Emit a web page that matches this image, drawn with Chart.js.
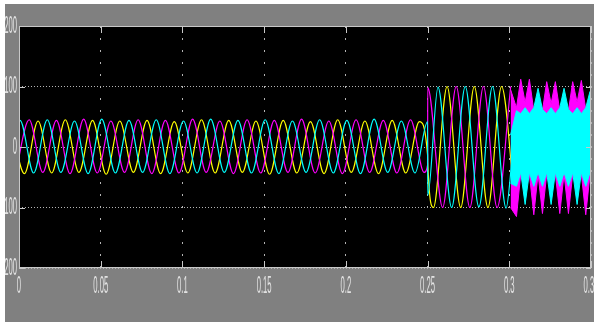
<!DOCTYPE html>
<html>
<head>
<meta charset="utf-8">
<script src="https://cdn.jsdelivr.net/npm/chart.js@4.4.1/dist/chart.umd.min.js"></script>
<style>
  html, body { margin: 0; padding: 0; background: #fff; }
  #panel { position: absolute; left: 5px; top: 4px; width: 589px; height: 318px; background: #808080; }
  canvas { display: block; }
</style>
</head>
<body>
<div id="panel"><canvas id="scope" width="589" height="318"></canvas></div>
<script>
// axis ticks
const xTicks = [0, 0.05, 0.1, 0.15, 0.2, 0.25, 0.3, 0.35];
const xTickLabels = ['0', '0.05', '0.1', '0.15', '0.2', '0.25', '0.3', '0.35'];
const yTicks = [200, 100, 0, -100, -200];
const yTickLabels = ['200', '100', '0', '-100', '-200'];

// 60 Hz phases: peaks/troughs are half a period apart
const halfPeriod = 1 / 120;
const stepTime = 0.25;

// cyan phase
const cyanStart1 = -0.0077;
const cyanSwing1 = [-42, 44, -43, 45, -42, 43, -44, 46, -43, 44, -42, 45, -44, 43, -43, 46,
                    -42, 44, -43, 45, -44, 43, -42, 45, -43, 44, -44, 46, -42, 43, -43];
const cyanStep = [42, -80];          // just before / just after 0.25 s
const cyanStart2 = 0.2564;
const cyanSwing2 = [99, -100, 100, -99, 100, -101];
const cyanTail = [0.3017, -20];

// magenta phase
const magentaStart1 = -0.0021;
const magentaSwing1 = [-43, 45, -42, 44, -44, 46, -43, 43, -42, 45, -44, 44, -43, 46, -42, 43,
                       -44, 45, -43, 44, -42, 46, -43, 43, -44, 45, -42, 44, -43, 45, -42];
const magentaStep = [-30, 98];
const magentaStart2 = 0.2592;
const magentaSwing2 = [-100, 100, -100, 100, -100, 100];

// yellow phase
const yellowStart1 = -0.0050;
const yellowSwing1 = [42, -44, 43, -43, 45, -42, 44, -45, 43, -42, 44, -44, 42, -43, 45, -43,
                      44, -42, 43, -45, 44, -43, 42, -44, 45, -42, 43, -44, 44, -43, 42];
const yellowStep = [-13, -26];
const yellowStart2 = 0.2536;
const yellowSwing2 = [-100, 100, -100, 100, -100, 100, -100];

// after 0.3 s: envelopes of the fast oscillation
const bandTimes = [0.3008, 0.3044, 0.3070, 0.3097, 0.3123, 0.3150, 0.3176, 0.3203, 0.3229, 0.3256,
                   0.3282, 0.3309, 0.3335, 0.3362, 0.3388, 0.3415, 0.3441, 0.3468, 0.3494];
const magentaTop = [95, 65, 112, 74, 112, 60, 60, 60, 108, 72, 108, 60, 60, 60, 108, 74, 110, 62, 70];
const magentaBottom = [-100, -115, -45, -60, -45, -112, -45, -110, -45, -60, -45, -110, -45, -110, -45, -60, -45, -112, -45];
const cyanTop = [20, 60, 55, 65, 55, 65, 97, 62, 55, 65, 55, 65, 97, 62, 55, 65, 55, 65, 92];
const cyanBottom = [-60, -65, -42, -95, -42, -65, -42, -65, -42, -95, -42, -65, -42, -65, -42, -95, -42, -65, -42];

function wave(start1, swing1, step, start2, swing2, tail) {
  const pts = swing1.map((v, i) => ({ x: start1 + i * halfPeriod, y: v }));
  pts.push({ x: stepTime, y: step[0] }, { x: stepTime + 0.0001, y: step[1] });
  swing2.forEach((v, i) => pts.push({ x: start2 + i * halfPeriod, y: v }));
  if (tail) pts.push({ x: tail[0], y: tail[1] });
  return pts;
}
function band(vals) {
  return vals.map((v, i) => ({ x: bandTimes[i], y: v }));
}

const lineStyle = { pointRadius: 0, borderWidth: 1.2, cubicInterpolationMode: 'monotone', fill: false };
const bandStyle = { pointRadius: 0, borderWidth: 1, tension: 0 };

const scopeFrame = {
  id: 'scopeFrame',
  beforeDraw(chart) {
    const { ctx, chartArea: a } = chart;
    ctx.save();
    ctx.fillStyle = '#000';
    ctx.fillRect(a.left, a.top, a.right - a.left, a.bottom - a.top);
    ctx.restore();
  },
  afterDraw(chart) {
    const { ctx, chartArea: a } = chart;
    const xs = chart.scales.x, ys = chart.scales.y;
    ctx.save();
    ctx.strokeStyle = '#c8c8c8';
    ctx.lineWidth = 1;
    ctx.strokeRect(a.left + 0.5, a.top + 0.5, a.right - a.left - 1, a.bottom - a.top - 1);
    ctx.beginPath();
    xTicks.forEach(v => {
      const px = Math.round(xs.getPixelForValue(v)) + 0.5;
      ctx.moveTo(px, a.bottom); ctx.lineTo(px, a.bottom - 7);
      ctx.moveTo(px, a.top); ctx.lineTo(px, a.top + 7);
    });
    yTicks.forEach(v => {
      const py = Math.round(ys.getPixelForValue(v)) + 0.5;
      ctx.moveTo(a.left, py); ctx.lineTo(a.left + 6, py);
      ctx.moveTo(a.right, py); ctx.lineTo(a.right - 5, py);
    });
    ctx.stroke();

    ctx.fillStyle = '#e2e2e2';
    ctx.font = '24px "Liberation Sans", Arial, sans-serif';
    ctx.textBaseline = 'middle';
    xTicks.forEach((v, i) => {
      ctx.save();
      ctx.translate(xs.getPixelForValue(v), a.bottom + 18);
      ctx.scale(0.32, 1);
      ctx.textAlign = 'center';
      ctx.fillText(xTickLabels[i], 0, 0);
      ctx.restore();
    });
    yTicks.forEach((v, i) => {
      ctx.save();
      ctx.translate(a.left - 2, ys.getPixelForValue(v));
      ctx.scale(0.32, 1);
      ctx.textAlign = 'right';
      ctx.fillText(yTickLabels[i], 0, 0);
      ctx.restore();
    });
    ctx.restore();
  }
};

new Chart(document.getElementById('scope'), {
  type: 'line',
  data: {
    datasets: [
      { ...lineStyle, label: 'c', borderColor: '#00ffff',
        data: wave(cyanStart1, cyanSwing1, cyanStep, cyanStart2, cyanSwing2, cyanTail) },
      { ...bandStyle, label: 'c+', borderColor: '#00ffff', backgroundColor: '#00ffff', fill: '+1', data: band(cyanTop) },
      { ...bandStyle, label: 'c-', borderColor: '#00ffff', fill: false, data: band(cyanBottom) },
      { ...lineStyle, label: 'm', borderColor: '#ff00ff',
        data: wave(magentaStart1, magentaSwing1, magentaStep, magentaStart2, magentaSwing2) },
      { ...bandStyle, label: 'm+', borderColor: '#ff00ff', backgroundColor: '#ff00ff', fill: '+1', data: band(magentaTop) },
      { ...bandStyle, label: 'm-', borderColor: '#ff00ff', fill: false, data: band(magentaBottom) },
      { ...lineStyle, label: 'y', borderColor: '#ffff00',
        data: wave(yellowStart1, yellowSwing1, yellowStep, yellowStart2, yellowSwing2) }
    ]
  },
  options: {
    responsive: false,
    animation: false,
    events: [],
    layout: { padding: { left: 14, top: 22, right: 3, bottom: 54 } },
    plugins: { legend: { display: false }, tooltip: { enabled: false } },
    scales: {
      x: {
        type: 'linear', min: 0, max: 0.35,
        afterBuildTicks: s => { s.ticks = xTicks.map(v => ({ value: v })); },
        ticks: { display: false },
        grid: { color: '#b4b4b4', lineWidth: 1, drawTicks: false },
        border: { display: false, dash: [2, 10] }
      },
      y: {
        min: -200, max: 200,
        afterBuildTicks: s => { s.ticks = yTicks.map(v => ({ value: v })); },
        ticks: { display: false },
        grid: { color: '#b4b4b4', lineWidth: 1, drawTicks: false },
        border: { display: false, dash: [1, 2] }
      }
    }
  },
  plugins: [scopeFrame]
});
</script>
</body>
</html>
